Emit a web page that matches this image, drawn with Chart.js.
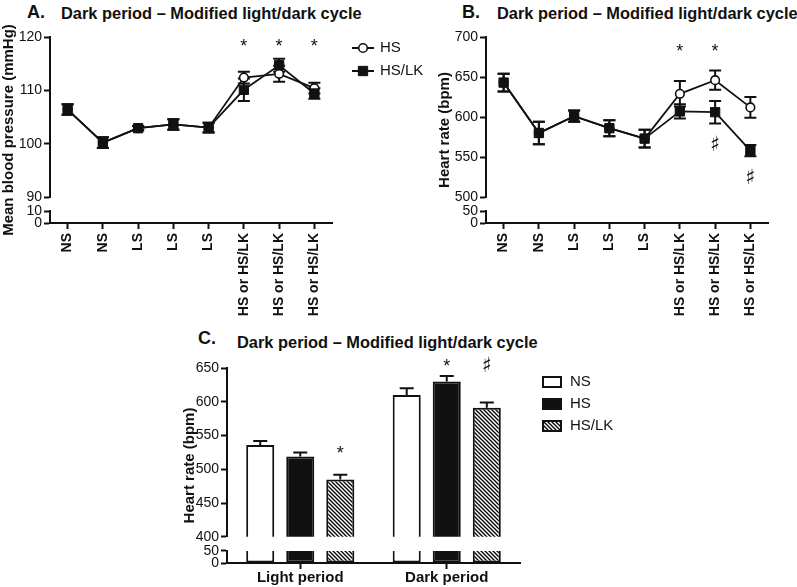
<!DOCTYPE html>
<html lang="es">
<head>
<meta charset="utf-8">
<title>Dark period – Modified light/dark cycle</title>
<script src="https://cdn.jsdelivr.net/npm/chart.js@4.4.1/dist/chart.umd.min.js"></script>
<style>
  html, body { margin: 0; padding: 0; background: #fff; }
  body { position: relative; width: 797px; height: 587px; overflow: hidden; font-family: "Liberation Sans", Arial, sans-serif; color: #111; }
  canvas { position: absolute; }
  .panel, .title { position: absolute; font-weight: bold; line-height: 1; white-space: nowrap; }
  .panel { font-size: 18px; }
  .title { font-size: 16.4px; }
</style>
</head>
<body>
<div class="panel" style="left:27px; top:3px">A.</div>
<div class="title" style="left:61px; top:5px">Dark period – Modified light/dark cycle</div>
<div class="panel" style="left:462px; top:3px">B.</div>
<div class="title" style="left:497px; top:5px">Dark period – Modified light/dark cycle</div>
<div class="panel" style="left:198px; top:329px">C.</div>
<div class="title" style="left:237px; top:334px">Dark period – Modified light/dark cycle</div>

<canvas id="chartA" width="430" height="330" style="left:0; top:0"></canvas>
<canvas id="chartB" width="367" height="330" style="left:430px; top:0"></canvas>
<canvas id="chartC" width="460" height="257" style="left:180px; top:330px"></canvas>

<script>
// Datos
const categories = ["NS", "NS", "LS", "LS", "LS", "HS or HS/LK", "HS or HS/LK", "HS or HS/LK"];

// A. Presión arterial media (mmHg)
const bpHS = [106.4, 100.2, 102.9, 103.6, 103.0, 112.4, 113.1, 110.4];
const bpHSerr = [1.0, 1.0, 0.4, 1.0, 0.9, 1.1, 1.5, 1.0];
const bpLK = [106.4, 100.2, 102.9, 103.6, 103.0, 110.1, 114.7, 109.4];
const bpLKerr = [1.0, 1.0, 0.4, 1.0, 0.9, 2.1, 1.2, 1.0];
const bpStars = ["", "", "", "", "", "*", "*", "*"];

// B. Frecuencia cardiaca (bpm)
const hrHS = [643, 580, 601, 586, 573, 629, 646, 612];
const hrHSerr = [11, 14, 7, 10, 11, 16, 12, 13];
const hrLK = [643, 580, 601, 586, 573, 607, 606, 558];
const hrLKerr = [11, 14, 7, 10, 11, 9, 14, 7];
const hrStars = ["", "", "", "", "", "*", "*", ""];
const hrSharps = ["", "", "", "", "", "", "♯", "♯"];

// C. Frecuencia cardiaca por periodo (bpm)
const periods = ["Light period", "Dark period"];
const barNS = [536, 610];
const barNSerr = [6, 10];
const barHS = [519, 630];
const barHSerr = [6, 8];
const barLK = [485, 591];
const barLKerr = [7, 8];

const INK = "#111";
Chart.defaults.font.family = '"Liberation Sans", Arial, sans-serif';
Chart.defaults.color = INK;
Chart.defaults.animation = false;

// Escalas apiladas para simular el eje Y cortado (tramo alto, hueco, tramo bajo)
function yStack(cfg) {
  const common = { type: "linear", position: "left", stack: "left", afterFit: (s) => { s.width = cfg.width; } };
  const tickGrid = { drawOnChartArea: false, drawTicks: true, tickLength: 6, tickWidth: 2, tickColor: INK };
  return {
    y: {
      ...common, weight: 3, stackWeight: cfg.weights[0], min: cfg.upper[0], max: cfg.upper[1],
      ticks: { stepSize: cfg.step, autoSkip: false, padding: 2, font: { size: 14 }, color: INK },
      grid: tickGrid, border: { color: INK, width: 2 },
    },
    yGap: {
      ...common, weight: 2, stackWeight: cfg.weights[1], min: 0, max: 1,
      ticks: { display: false }, grid: { display: false }, border: { display: false },
    },
    yLow: {
      ...common, weight: 1, stackWeight: cfg.weights[2], min: 0, max: cfg.lower,
      afterBuildTicks: (s) => { s.ticks = [{ value: 0 }, { value: cfg.lower }]; },
      ticks: { autoSkip: false, padding: 2, font: { size: 14 }, color: INK },
      grid: tickGrid, border: { color: INK, width: 2 },
    },
  };
}

function xAxis(cfg) {
  return {
    type: "category",
    offset: true,
    grid: { display: true, drawOnChartArea: false, drawTicks: true, tickLength: 6, tickWidth: 2, tickColor: INK, offset: false },
    border: { color: INK, width: 2 },
    ticks: { autoSkip: false, maxRotation: cfg.rot, minRotation: cfg.rot, padding: cfg.pad, font: { size: cfg.size, weight: "bold" }, color: INK },
    afterFit: (s) => { s.height = cfg.height; },
  };
}

// Barras de error (media ± EEM); en barras sólo la parte superior
function errorBars(cap, upOnly) {
  const draw = (chart) => {
    const ctx = chart.ctx;
    chart.data.datasets.forEach((ds, i) => {
      if (!ds.errors) return;
      const meta = chart.getDatasetMeta(i);
      const scale = chart.scales[meta.yAxisID];
      meta.data.forEach((el, j) => {
        const v = ds.data[j];
        const e = ds.errors[j];
        const yTop = scale.getPixelForValue(v + e);
        const yBot = scale.getPixelForValue(upOnly ? v : v - e);
        ctx.save();
        ctx.strokeStyle = INK;
        ctx.lineWidth = 2;
        ctx.beginPath();
        ctx.moveTo(el.x, yTop);
        ctx.lineTo(el.x, yBot);
        ctx.moveTo(el.x - cap / 2, yTop);
        ctx.lineTo(el.x + cap / 2, yTop);
        if (!upOnly) {
          ctx.moveTo(el.x - cap / 2, yBot);
          ctx.lineTo(el.x + cap / 2, yBot);
        }
        ctx.stroke();
        ctx.restore();
      });
    });
  };
  return upOnly
    ? { id: "errorBars", afterDatasetsDraw: draw }
    : { id: "errorBars", beforeDatasetsDraw: draw };
}

// Marcas de significación (* y ♯)
function sigMarks(items) {
  return {
    id: "sigMarks",
    afterDatasetsDraw(chart) {
      const ctx = chart.ctx;
      items.forEach((m) => {
        const meta = chart.getDatasetMeta(m.dataset);
        const el = meta.data[m.index];
        const scale = chart.scales[meta.yAxisID];
        let y;
        if (m.level !== undefined) {
          y = scale.getPixelForValue(m.level);
        } else {
          const ds = chart.data.datasets[m.dataset];
          y = scale.getPixelForValue(ds.data[m.index] - ds.errors[m.index]) + m.below;
        }
        ctx.save();
        ctx.fillStyle = INK;
        ctx.textAlign = "center";
        ctx.textBaseline = "middle";
        if (m.text === "♯") {
          ctx.font = '21px "DejaVu Sans"';
          ctx.fillText(m.text, el.x, y);
        } else {
          ctx.textBaseline = "alphabetic";
          ctx.font = '18px "Liberation Sans"';
          ctx.fillText(m.text, el.x, y + 0.58 * 18);
        }
        ctx.restore();
      });
    },
  };
}

function yTitle(text, x) {
  return {
    id: "yTitle",
    afterDraw(chart) {
      const { ctx, chartArea } = chart;
      ctx.save();
      ctx.translate(x, (chartArea.top + chartArea.bottom) / 2);
      ctx.rotate(-Math.PI / 2);
      ctx.font = 'bold 15px "Liberation Sans"';
      ctx.fillStyle = INK;
      ctx.textAlign = "center";
      ctx.textBaseline = "middle";
      ctx.fillText(text, 0, 0);
      ctx.restore();
    },
  };
}

// Leyenda de líneas con marcador (panel A)
function lineLegend(left, top, gap, textX) {
  return {
    id: "lineLegend",
    afterDraw(chart) {
      const ctx = chart.ctx;
      chart.data.datasets.forEach((ds, i) => {
        const y = top + i * gap;
        const cx = left + 11;
        ctx.save();
        ctx.strokeStyle = INK;
        ctx.lineWidth = 2;
        ctx.beginPath();
        ctx.moveTo(left, y);
        ctx.lineTo(left + 22, y);
        ctx.stroke();
        ctx.fillStyle = ds.pointBackgroundColor;
        ctx.lineWidth = ds.pointBorderWidth;
        ctx.beginPath();
        if (ds.pointStyle === "circle") {
          ctx.arc(cx, y, ds.pointRadius, 0, Math.PI * 2);
        } else {
          const h = ds.pointRadius * Math.SQRT1_2;
          ctx.rect(cx - h, y - h, 2 * h, 2 * h);
        }
        ctx.fill();
        ctx.stroke();
        ctx.font = '15px "Liberation Sans"';
        ctx.fillStyle = INK;
        ctx.textAlign = "left";
        ctx.textBaseline = "middle";
        ctx.fillText(ds.label, textX, y);
        ctx.restore();
      });
    },
  };
}

// Leyenda de cajas (panel C)
function boxLegend(left, top, gap, textX) {
  return {
    id: "boxLegend",
    afterDraw(chart) {
      const ctx = chart.ctx;
      chart.data.datasets.slice(0, 3).forEach((ds, i) => {
        const y = top + i * gap;
        ctx.save();
        ctx.fillStyle = ds.backgroundColor;
        ctx.fillRect(left, y - 6, 20, 12);
        ctx.strokeStyle = INK;
        ctx.lineWidth = 2;
        ctx.strokeRect(left + 1, y - 5, 18, 10);
        ctx.font = '15px "Liberation Sans"';
        ctx.fillStyle = INK;
        ctx.textAlign = "left";
        ctx.textBaseline = "middle";
        ctx.fillText(ds.label, textX, y);
        ctx.restore();
      });
    },
  };
}

function lineDatasets(hs, hsErr, lk, lkErr) {
  return [
    {
      label: "HS", data: hs, errors: hsErr, yAxisID: "y", order: 2,
      borderColor: INK, borderWidth: 1.8, tension: 0,
      pointStyle: "circle", pointRadius: 4.3, pointBorderWidth: 1.6,
      pointBackgroundColor: "#fff", pointBorderColor: INK,
    },
    {
      label: "HS/LK", data: lk, errors: lkErr, yAxisID: "y", order: 1,
      borderColor: INK, borderWidth: 1.8, tension: 0,
      pointStyle: "rect", pointRadius: 6.6, pointBorderWidth: 1,
      pointBackgroundColor: INK, pointBorderColor: INK,
    },
  ];
}

const marks = (arr, dataset, extra) =>
  arr.map((t, i) => (t ? { dataset, index: i, text: t, ...extra } : null)).filter(Boolean);

// Panel A
new Chart(document.getElementById("chartA"), {
  type: "line",
  data: { labels: categories, datasets: lineDatasets(bpHS, bpHSerr, bpLK, bpLKerr) },
  options: {
    responsive: false,
    layout: { padding: { top: 37, right: 98, left: 0, bottom: 0 } },
    plugins: { legend: { display: false }, tooltip: { enabled: false } },
    scales: {
      x: xAxis({ rot: 90, size: 14, height: 107, pad: 4 }),
      ...yStack({ width: 50, upper: [90, 120], step: 10, lower: 10, weights: [160, 14, 12] }),
    },
  },
  plugins: [
    errorBars(12, false),
    sigMarks(marks(bpStars, 0, { level: 119.1 })),
    yTitle("Mean blood pressure (mmHg)", 8.5),
    lineLegend(352, 48, 23, 380),
  ],
});

// Panel B
new Chart(document.getElementById("chartB"), {
  type: "line",
  data: { labels: categories, datasets: lineDatasets(hrHS, hrHSerr, hrLK, hrLKerr) },
  options: {
    responsive: false,
    layout: { padding: { top: 37, right: 29, left: 0, bottom: 0 } },
    plugins: { legend: { display: false }, tooltip: { enabled: false } },
    scales: {
      x: xAxis({ rot: 90, size: 14, height: 107, pad: 4 }),
      ...yStack({ width: 56, upper: [500, 700], step: 50, lower: 50, weights: [160, 14, 12] }),
    },
  },
  plugins: [
    errorBars(12, false),
    sigMarks([
      ...marks(hrStars, 0, { level: 688 }),
      ...marks(hrSharps, 1, { below: 22 }),
    ]),
    yTitle("Heart rate (bpm)", 15),
  ],
});

// Panel C: trama rayada para HS/LK
const ctxC = document.getElementById("chartC").getContext("2d");
const tile = document.createElement("canvas");
tile.width = 4;
tile.height = 4;
const tg = tile.getContext("2d");
tg.fillStyle = "#fff";
tg.fillRect(0, 0, 4, 4);
tg.strokeStyle = "#000";
tg.lineWidth = 1.3;
tg.beginPath();
tg.moveTo(-1, -1); tg.lineTo(5, 5);
tg.moveTo(-1, 3); tg.lineTo(1, 5);
tg.moveTo(3, -1); tg.lineTo(5, 1);
tg.stroke();
const hatch = ctxC.createPattern(tile, "repeat");

const LOW_MAX = 50;
const low = (arr) => arr.map((v) => Math.min(v, LOW_MAX));
const barStyle = (bg) => ({ backgroundColor: bg, borderColor: INK, borderWidth: 2 });

new Chart(ctxC, {
  type: "bar",
  data: {
    labels: periods,
    datasets: [
      { label: "NS", data: barNS, errors: barNSerr, stack: "NS", yAxisID: "y", ...barStyle("#fff") },
      { label: "HS", data: barHS, errors: barHSerr, stack: "HS", yAxisID: "y", ...barStyle(INK) },
      { label: "HS/LK", data: barLK, errors: barLKerr, stack: "LK", yAxisID: "y", ...barStyle(hatch) },
      // tramo inferior del eje cortado
      { label: "NS", data: low(barNS), stack: "NS", yAxisID: "yLow", borderSkipped: "end", ...barStyle("#fff") },
      { label: "HS", data: low(barHS), stack: "HS", yAxisID: "yLow", borderSkipped: "end", ...barStyle(INK) },
      { label: "HS/LK", data: low(barLK), stack: "LK", yAxisID: "yLow", borderSkipped: "end", ...barStyle(hatch) },
    ],
  },
  options: {
    responsive: false,
    layout: { padding: { top: 38, right: 120, left: 0, bottom: 0 } },
    datasets: { bar: { categoryPercentage: 0.82, barPercentage: 0.7 } },
    plugins: { legend: { display: false }, tooltip: { enabled: false } },
    scales: {
      x: xAxis({ rot: 0, size: 15, height: 24, pad: 0 }),
      ...yStack({ width: 47, upper: [400, 650], step: 50, lower: LOW_MAX, weights: [168, 14, 12] }),
    },
  },
  plugins: [
    errorBars(14, true),
    sigMarks([
      { dataset: 2, index: 0, text: "*", level: 530.5 },
      { dataset: 1, index: 1, text: "*", level: 660 },
      { dataset: 2, index: 1, text: "♯", level: 652 },
    ]),
    yTitle("Heart rate (bpm)", 10),
    boxLegend(362, 52, 22, 390),
  ],
});
</script>
</body>
</html>
